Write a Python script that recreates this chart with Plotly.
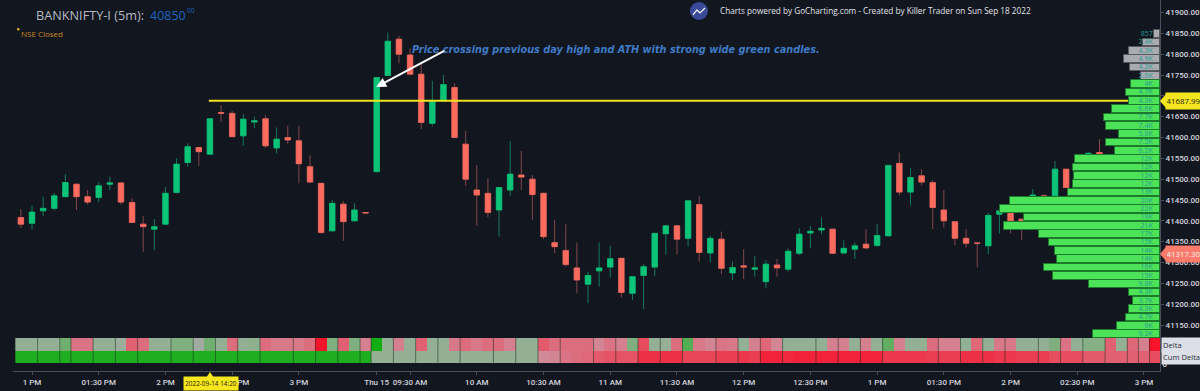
import plotly.graph_objects as go

# ---------- candles (index -1 .. 96; None = hidden behind the volume profile) ----------
candle_index = list(range(-1, 97))
high_ = [41428,41436,41458,41467,41512,41488,41474,41493,41506,41493,41454,41412,41404,41481,41550,41586,41577,41646,41678,41664,
         41656,41650,41654,41624,41628,41628,41557,41491,41450,41447,41442,41420,41745,41852,41844,41814,41778,41736,41750,41730,
         41616,41534,41502,41481,41592,41568,41510,41467,41402,41392,41348,41278,41348,41340,41311,41268,41296,41371,41389,41389,
         41449,41460,41364,41374,41302,41332,41316,41306,41308,41334,41382,41388,41408,41380,41354,41348,41380,41392,41534,41564,
         41526,41524,41498,41474,41398,41380,41347,41420,41431,41419,41404,41476,41464,41544,41524,None,41565,41596]
body_top = [41408,41421,41430,41460,41492,41488,41458,41484,41491,41491,41444,41392,41386,41466,41536,41578,41576,41645,41660,41658,
            41644,41640,41645,41596,41600,41592,41530,41490,41442,41440,41426,41420,41744,41831,41836,41798,41752,41686,41727,41720,
            41584,41474,41466,41480,41512,41510,41500,41466,41348,41329,41287,41269,41287,41309,41310,41266,41290,41370,41388,41388,
            41448,41439,41358,41356,41288,41292,41287,41296,41294,41327,41368,41375,41382,41380,41334,41340,41344,41365,41533,41538,
            41504,41508,41492,41426,41398,41358,41347,41413,41424,41418,41404,41462,41460,41524,41524,None,41562,41564]
body_bot = [41392,41394,41424,41430,41458,41458,41445,41456,41488,41445,41396,41386,41380,41392,41468,41540,41566,41560,41658,41602,
            41604,41637,41580,41575,41594,41537,41493,41372,41376,41398,41400,41419,41518,41749,41800,41752,41636,41634,41688,41600,
            41500,41462,41420,41426,41474,41505,41463,41362,41338,41295,41258,41248,41280,41289,41228,41226,41269,41289,41369,41356,
            41358,41324,41323,41286,41275,41289,41284,41254,41287,41284,41322,41371,41378,41322,41323,41332,41335,41341,41364,41469,
            41469,41493,41432,41400,41358,41346,41346,41340,41416,41400,41388,41414,41426,41460,41480,None,41558,41558]
low_ = [41383,41378,41412,41425,41457,41426,41439,41445,41474,41439,41395,41326,41330,41390,41468,41530,41532,41559,41638,41601,
        41580,41622,41575,41562,41584,41490,41491,41369,41375,41352,41400,41419,41518,41749,41778,41750,41620,41628,41688,41599,
        41484,41388,41409,41362,41460,41474,41402,41356,41323,41290,41226,41202,41242,41264,41216,41210,41188,41268,41319,41319,
        41338,41302,41300,41272,41258,41260,41266,41238,41266,41278,41318,41334,41368,41320,41320,41308,41332,41338,41363,41461,
        41437,41485,41380,41384,41342,41336,41288,41320,41370,41370,41354,41402,41397,41458,41479,None,41556,41557]
rising = [0,1,1,1,1,0,0,1,1,0,0,0,1,1,1,1,0,1,0,0,
          1,1,0,1,0,0,0,0,1,0,1,0,1,1,0,0,0,1,1,0,
          0,0,0,1,1,0,0,0,0,0,0,1,1,1,0,1,1,1,1,0,
          1,0,1,0,1,0,1,1,0,1,1,1,1,0,1,1,0,1,1,0,
          1,0,0,0,0,0,0,1,1,0,0,1,0,1,0,0,1,0]
open_ = [None if t is None else (b if r else t) for t, b, r in zip(body_top, body_bot, rising)]
close_ = [None if t is None else (t if r else b) for t, b, r in zip(body_top, body_bot, rising)]

# ---------- delta strips (signed intensity, index -1 .. 101) ----------
delta_index = list(range(-1, 102))
delta_row = [.1,.1,.1,.1,.35,-.3,-.3,.1,.1,.05,-.45,-.35,.1,.1,.25,.25,.02,.35,.1,-.35,
             .1,.15,-.35,-.25,-.25,-.25,-.35,-1,.25,-.45,.25,-.2,1,.1,-.2,.1,-.45,.1,.1,-.25,
             -.35,-.25,-.35,-.35,-.2,.1,.1,-.5,-.35,-.35,-.35,-.35,-.15,-.3,-.2,.25,-.6,.1,.08,-.35,
             .55,-.25,-.15,-.3,-.25,.1,-.2,-.4,-.15,.1,.1,.1,.1,-.2,-.2,.1,-.2,.1,.45,-.2,
             .1,.1,-.35,-.2,-.2,.1,-.4,.1,-.25,-.25,.1,.1,.1,.25,-.3,.1,.2,.2,-.45,.1,-.4,-.2,-1]
cum_row = [.9]*32 + [.1]*15 + [-.12,-.15,-.3,-.35,-.4,-.5,-.55,-.55,-.55,-.8,-.8,-.8,-.8,-.65,-.65,-.65,-.7,-.7,-.75,
           -.7,-.9,-.9,-.85,-.9,-.9,-.9,-.9,-.9,-.9,-.9,-.9,-.75,-.75,-.75,-.75,-.7,-.7,-.7,-.8,-.8,-.8,-.75,-.75,
           -.7,-.7,-.7,-.6,-.6,-.6,-.5,-.5,-.45,-.45,-.45,-.45,-.6]
strip_breaks = [.5,2.5,3.5,5.5,7.5,9.5,12.5,14.5,16.5,18.5,20.5,23.5,25.5,27.5,29.5,30.5,32.5,34.5,36.5,38.5,41.5,43.5,45.5,47.5,
                50.5,52.5,54.5,56.5,58.5,61.5,63.5,65.5,67.5,70.5,72.5,74.5,76.5,81.5,83.5,85.5,87.5,90.5,92.5,94.5,96.5,98.5,99.5,100.5]

# ---------- volume profile ----------
profile_price = [41848,41828,41808,41788,41768,41748,41728,41708,41688,41668,41648,41628,41608,41588,41568,41548,41528,41508,41488,
                 41468,41448,41428,41408,41388,41368,41348,41328,41308,41288,41268,41248,41228,41208,41188,41168,41148,41128]
profile_volume = [857,2400,4300,4900,4200,2600,4000,4700,4300,6600,7700,7400,5600,7500,6200,11700,12000,11900,12000,12700,
                  20700,22000,18700,21500,16700,15300,14500,14200,16000,14800,9800,4300,3700,4300,4700,6000,9200]
profile_label = ["857","2.4K","4.3K","4.9K","4.2K","2.6K","4K","4.7K","4.3K","6.6K","7.7K","7.4K","5.6K","7.5K","6.2K","12K","12K","12K","12K","13K",
                 "20K","22K","18K","21K","17K","15K","14K","14K","16K","15K","9.8K","4.3K","3.7K","4.3K","4.7K","6K","9.2K"]
profile_is_grey = [1,1,1,1,1,1] + [0]*31

# ---------- axes text ----------
price_ticks = [41150,41200,41250,41300,41350,41400,41450,41500,41550,41600,41650,41700,41750,41800,41850,41900]
time_tick_index = [0,6,12,18,24,31,34,40,46,52,58,64,70,76,82,88,94,100]
time_tick_text = ["1 PM","01:30 PM","2 PM","02:30 PM","3 PM","Thu 15","09:30 AM","10 AM","10:30 AM","11 AM","11:30 AM","12 PM",
                  "12:30 PM","1 PM","01:30 PM","2 PM","02:30 PM","3 PM"]
level_price = 41687.99
last_price = 41317.30

BG = "#12161f"
AXIS = "#4a4f5a"
TXT = "#d2d5dc"
FONT = "Open Sans"
TICK_FONT = "Roboto"
W_PLOT, H_PLOT, L = 1147, 371, 13

def fx(px):
    return (px - L) / W_PLOT

def fy(py):
    return (H_PLOT - py) / H_PLOT

fig = go.Figure()

fig.add_trace(go.Heatmap(
    x=delta_index, y=[0, 1], z=[cum_row, delta_row], xaxis="x", yaxis="y2", zmin=-1, zmax=1, showscale=False,
    colorscale=[[0, "#f5142c"], [.25, "#e35a6c"], [.45, "#d08c9a"], [.5, "#a4aaa4"], [.55, "#94b094"], [.75, "#5cae5c"], [1, "#10ae10"]]))
sep_x, sep_y = [], []
for b in strip_breaks:
    sep_x += [b, b, None]
    sep_y += [-.5, 1.5, None]
fig.add_trace(go.Scatter(x=sep_x, y=sep_y, mode="lines", xaxis="x", yaxis="y2",
                         line=dict(color="rgba(20,40,25,.5)", width=1), hoverinfo="skip"))

WICK_G, WICK_R = "#137a5a", "#82474a"
fig.add_trace(go.Candlestick(
    x=candle_index, open=open_, high=high_, low=low_, close=close_, xaxis="x", yaxis="y", whiskerwidth=0,
    increasing=dict(line=dict(color=WICK_G, width=1), fillcolor=WICK_G),
    decreasing=dict(line=dict(color=WICK_R, width=1), fillcolor=WICK_R)))
fig.add_trace(go.Candlestick(
    x=candle_index, open=open_, high=[max(o, c) if o is not None else None for o, c in zip(open_, close_)],
    low=[min(o, c) if o is not None else None for o, c in zip(open_, close_)], close=close_, xaxis="x", yaxis="y", whiskerwidth=0,
    increasing=dict(line=dict(color="#0bc477", width=.5), fillcolor="#0bc477"),
    decreasing=dict(line=dict(color="#fc6b5e", width=.5), fillcolor="#fc6b5e")))

fig.add_trace(go.Scatter(x=[15.9, 101.44], y=[level_price, level_price], mode="lines", xaxis="x", yaxis="y",
                         line=dict(color="#efe31f", width=2), hoverinfo="skip"))

fig.add_trace(go.Bar(
    x=profile_volume, y=profile_price, orientation="h", xaxis="x2", yaxis="y", width=19,
    marker=dict(color=["#a9abb0" if g else "#4ce358" for g in profile_is_grey],
                line=dict(color=["#55585e" if g else "#1d7a2c" for g in profile_is_grey], width=1))))
fig.add_trace(go.Scatter(
    x=[1000] * len(profile_price), y=profile_price, text=profile_label, mode="text", textposition="middle left",
    textfont=dict(size=7, color="#2b9c96", family=FONT), xaxis="x2", yaxis="y", hoverinfo="skip"))

ann = []
def text(px, py, s, size, color, anchor="left", **kw):
    ann.append(dict(xref="paper", yref="paper", x=fx(px), y=fy(py), text=s, showarrow=False, xanchor=anchor, yanchor="middle",
                    font=dict(size=size, color=color, family=kw.pop("family", FONT)), **kw))

text(34, 15, "BANKNIFTY-I (5m):", 12.7, "#b6bac2")
text(148, 15, "40850", 12.5, "#1c63c0")
text(185, 10, "00", 6.5, "#1c63c0")
text(19, 33, "NSE Closed", 8, "#c48a1c")
text(718, 11, "Charts powered by GoCharting.com - Created by Killer Trader on Sun Sep 18 2022", 8.2, "#e2e4ea")
text(1161, 344.5, "Delta", 7.6, "#2a2d35", bgcolor="#dcdfe8", width=37, height=12, align="left")
text(1161, 357, "Cum Delta", 7.6, "#2a2d35", bgcolor="#dcdfe8", width=37, height=12, align="left")
text(1165, 101, "41687.99", 7.8, "#1a1a10", bgcolor="#f4e51e", width=33, height=14, align="center")
text(1165, 254, "41317.30", 7.8, "#fff4f0", bgcolor="#fa7b6c", width=33, height=14, align="center")
text(183, 383.5, "2022-09-14 14:20", 6.4, "#262208", bgcolor="#f5e61e", width=52, height=11, align="center")
ann.append(dict(xref="x", yref="y", x=33.95, y=41812, xanchor="left", yanchor="middle", showarrow=False,
                text="<b><i>Price crossing previous day high and ATH with strong wide green candles.</i></b>",
                font=dict(size=9.75, color="#3f7bc6", family="DejaVu Sans")))
ann.append(dict(xref="x", yref="y", axref="x", ayref="y", x=30.95, y=41721, ax=37.2, ay=41810, text="", showarrow=True,
                arrowhead=2, arrowsize=1, arrowwidth=2, arrowcolor="#ffffff"))

def poly(pts, color, width=0, closed=True, line=None):
    p = "M " + " L ".join(f"{fx(x):.5f},{fy(y):.5f}" for x, y in pts) + (" Z" if closed else "")
    return dict(type="path", xref="paper", yref="paper", path=p, fillcolor=color if closed else "rgba(0,0,0,0)",
                line=dict(color=line or color, width=width), layer="above")

shapes = [
    poly([(1160, 101), (1166, 94), (1166, 108)], "#f4e51e"),
    poly([(1160, 254), (1166, 247), (1166, 261)], "#fa7b6c"),
    poly([(210, 372), (206, 378), (214, 378)], "#f5e61e"),
    dict(type="circle", xref="paper", yref="paper", x0=fx(690), x1=fx(708), y0=fy(20), y1=fy(2), fillcolor="#3a4a98", line=dict(width=0), layer="above"),
    poly([(693, 15), (697, 10), (700, 13), (705, 8)], "#ffffff", width=1.2, closed=False),
    dict(type="circle", xref="paper", yref="paper", x0=fx(17), x1=fx(19.5), y0=fy(30.5), y1=fy(28), fillcolor="#e8b030", line=dict(width=0), layer="above"),
]

fig.update_layout(
    width=1200, height=391, margin=dict(l=L, r=40, t=0, b=20, autoexpand=False), paper_bgcolor=BG, plot_bgcolor=BG, showlegend=False,
    boxgap=.3, hovermode=False, annotations=ann, shapes=shapes, bargap=0,
    xaxis=dict(domain=[0, 1], range=[-1.709, 101.44], anchor="y2", showgrid=False, zeroline=False, rangeslider=dict(visible=False),
               tickmode="array", tickvals=time_tick_index, ticktext=time_tick_text, ticks="outside", ticklen=3, tickcolor=AXIS, tickangle=0,
               tickfont=dict(size=8, color=TXT, family=TICK_FONT, weight=500), showline=True, linecolor=AXIS, linewidth=1),
    xaxis2=dict(domain=[0, 1], range=[158200, 0], overlaying="x", anchor="y", visible=False, showgrid=False, zeroline=False),
    yaxis=dict(domain=[fy(338), 1], range=[41118.8, 41930], side="right", anchor="x", showgrid=False, zeroline=False,
               tickmode="array", tickvals=price_ticks, tickformat=".2f", ticks="outside", ticklen=3, tickcolor=AXIS,
               tickfont=dict(size=8, color=TXT, family=TICK_FONT, weight=500), showline=True, linecolor=AXIS, linewidth=1),
    yaxis2=dict(domain=[0, fy(338)], range=[-1.14, 1.5], side="right", anchor="x", showgrid=False, zeroline=False, type="linear",
                tickmode="array", tickvals=[-.62], ticktext=["0"], ticks="", tickfont=dict(size=8, color=TXT, family=TICK_FONT, weight=500),
                showline=True, linecolor=AXIS, linewidth=1),
)
fig.write_html("out.html", config=dict(displayModeBar=False),
               post_script="document.documentElement.style.background='#12161f';document.body.style.margin='0';document.body.style.overflow='hidden';")
